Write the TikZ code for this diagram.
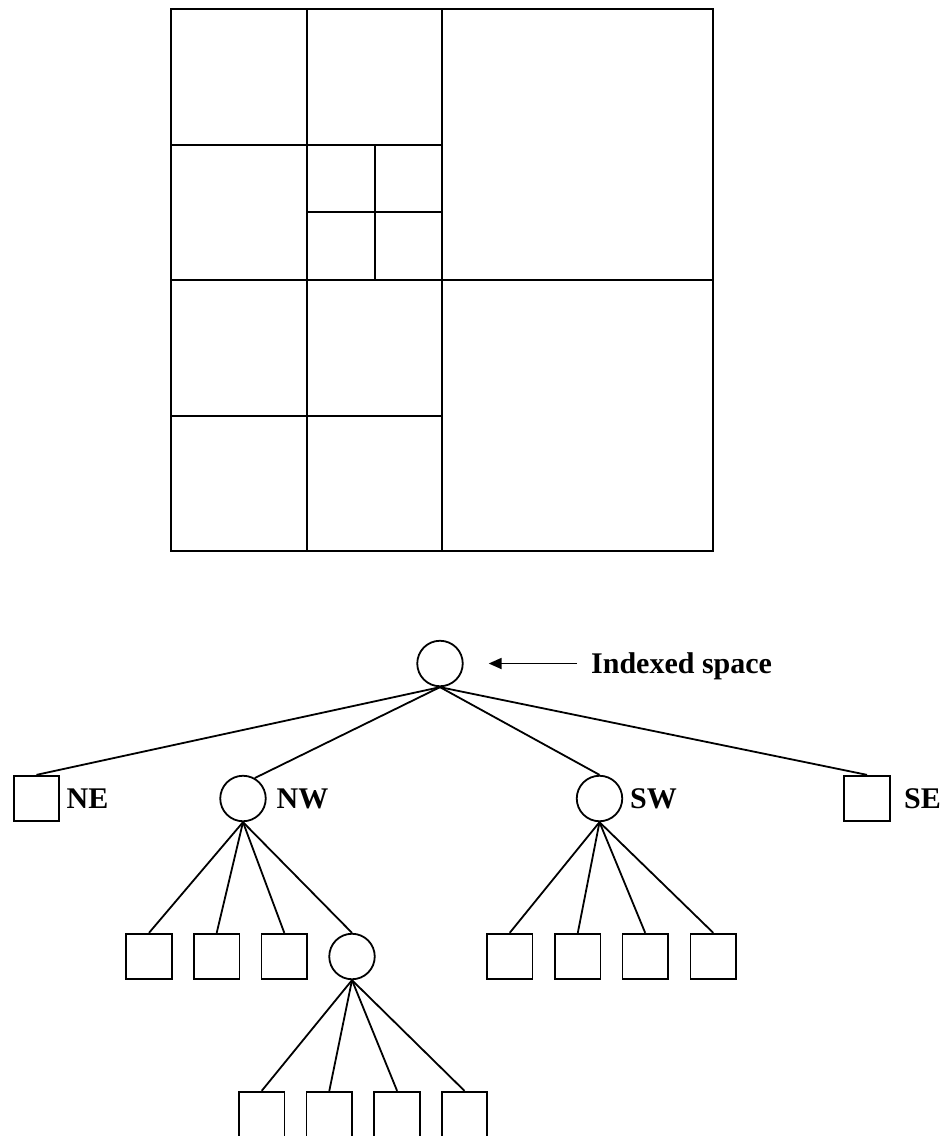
\documentclass[tikz,border=0pt]{standalone}
\usepackage{fontspec}
\setmainfont{Liberation Serif}
\usetikzlibrary{arrows.meta}
\tikzset{
  ln/.style={line width=2pt, line cap=rect},
  leaf/.style={draw, line width=1.8pt, rectangle, minimum size=45.5pt, inner sep=0pt},
  inner/.style={draw, line width=1.8pt, circle, minimum size=45.5pt, inner sep=0pt},
  tag/.style={anchor=base west, inner sep=0pt, font=\fontsize{30}{32}\selectfont\bfseries},
  edge/.style={line width=1.8pt}
}
\begin{document}
\begin{tikzpicture}[x=1pt, y=-1pt]
\clip (0,0) rectangle (947,1136);
\fill[white] (0,0) rectangle (947,1136);

% ---- spatial subdivision ----
\draw[ln] (171,9) rectangle (713,551);
\draw[ln] (442,9) -- (442,551);
\draw[ln] (171,280) -- (713,280);
\draw[ln] (307,9) -- (307,551);
\draw[ln] (171,145) -- (442,145);
\draw[ln] (171,416) -- (442,416);
\draw[ln] (375,145) -- (375,280);
\draw[ln] (307,212) -- (442,212);

% ---- quadtree ----
\node[inner] (root) at (440,663.5) {};
\node[tag] (idx) at (591,673) {Indexed space};
\draw[edge, -{Triangle[length=13pt, width=11pt]}, shorten <=14pt, shorten >=25pt]
  (idx.west |- root.east) -- (root.east);

\node[leaf]  (ne) at (36.5,798.5) {};
\node[inner] (nw) at (243,798.5) {};
\node[inner] (sw) at (599.5,798.5) {};
\node[leaf]  (se) at (867,798.5) {};
\node[tag] at (66.5,808) {NE};
\node[tag] at (276.5,808) {NW};
\node[tag] at (630,808) {SW};
\node[tag] at (904,808) {SE};

\draw[edge] (root.south) -- (ne.north);
\draw[edge] (root.south) -- (nw.60);
\draw[edge] (root.south) -- (sw.north);
\draw[edge] (root.south) -- (se.north);

% children of NW
\node[leaf]  (nw1) at (149,956.5) {};
\node[leaf]  (nw2) at (216.7,956.5) {};
\node[leaf]  (nw3) at (284.3,956.5) {};
\node[inner] (nw4) at (352,956.5) {};
\foreach \c in {nw1,nw2,nw3,nw4} \draw[edge] (nw.south) -- (\c.north);

% children of the inner node under NW
\node[leaf] (d1) at (261.7,1114.5) {};
\node[leaf] (d2) at (329.3,1114.5) {};
\node[leaf] (d3) at (397.1,1114.5) {};
\node[leaf] (d4) at (464.5,1114.5) {};
\foreach \c in {d1,d2,d3,d4} \draw[edge] (nw4.south) -- (\c.north);

% children of SW
\node[leaf] (sw1) at (509.7,956.5) {};
\node[leaf] (sw2) at (577.8,956.5) {};
\node[leaf] (sw3) at (645.2,956.5) {};
\node[leaf] (sw4) at (713.3,956.5) {};
\foreach \c in {sw1,sw2,sw3,sw4} \draw[edge] (sw.south) -- (\c.north);
\end{tikzpicture}
\end{document}
